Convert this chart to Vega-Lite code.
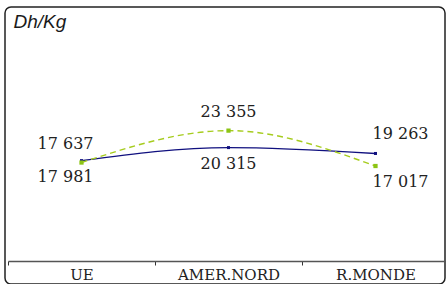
{
  "$schema": "https://vega.github.io/schema/vega-lite/v6.json",
  "width": 440,
  "height": 277,
  "autosize": "none",
  "padding": {"left": 5, "top": 7, "right": 1, "bottom": 0},
  "background": "white",
  "config": {
    "view": {"stroke": "#222222", "strokeWidth": 1.5, "cornerRadius": 6},
    "locale": {"number": {"decimal": ",", "thousands": " ", "grouping": [3], "currency": ["", ""]}}
  },
  "datasets": {
    "prices": [
      {"cat": "UE", "series": "navy", "v": 17981},
      {"cat": "AMER.NORD", "series": "navy", "v": 20315},
      {"cat": "R.MONDE", "series": "navy", "v": 19263},
      {"cat": "UE", "series": "green", "v": 17637},
      {"cat": "AMER.NORD", "series": "green", "v": 23355},
      {"cat": "R.MONDE", "series": "green", "v": 17017}
    ],
    "unit": [
      {"cat": "UE", "v": 45500, "label": "Dh/Kg"}
    ]
  },
  "data": {"name": "prices"},
  "encoding": {
    "x": {
      "field": "cat",
      "type": "nominal",
      "sort": ["UE", "AMER.NORD", "R.MONDE"],
      "scale": {"type": "band", "range": [3, 444], "paddingInner": 0, "paddingOuter": 0},
      "axis": {
        "title": null,
        "orient": "bottom",
        "offset": -23,
        "domainColor": "#555555",
        "domainWidth": 1.5,
        "tickBand": "extent",
        "tickColor": "#333333",
        "tickSize": 4,
        "tickWidth": 1,
        "labelAngle": 0,
        "labelFont": "DejaVu Serif",
        "labelFontSize": 15,
        "labelColor": "#222222",
        "labelPadding": 2,
        "grid": false
      }
    },
    "y": {
      "field": "v",
      "type": "quantitative",
      "scale": {"domain": [0, 45500], "range": [254, 0], "zero": true, "nice": false},
      "axis": null
    }
  },
  "layer": [
    {
      "transform": [{"filter": "datum.series == 'navy'"}],
      "mark": {"type": "line", "interpolate": "monotone", "color": "#10107f", "strokeWidth": 1.4}
    },
    {
      "transform": [{"filter": "datum.series == 'green'"}],
      "mark": {"type": "line", "interpolate": "monotone", "color": "#a6cc1e", "strokeWidth": 1.4, "strokeDash": [6, 4]}
    },
    {
      "transform": [{"filter": "datum.series == 'navy'"}],
      "mark": {"type": "point", "shape": "square", "filled": true, "size": 9, "color": "#10107f", "opacity": 1}
    },
    {
      "transform": [{"filter": "datum.series == 'green'"}],
      "mark": {"type": "point", "shape": "square", "filled": true, "size": 18, "color": "#8cc414", "opacity": 1}
    },
    {
      "mark": {
        "type": "text",
        "font": "DejaVu Serif",
        "fontSize": 16,
        "color": "#222222",
        "baseline": "middle",
        "align": "center",
        "dx": {"expr": "datum.cat == 'UE' ? -16 : (datum.cat == 'R.MONDE' ? 25 : 0)"},
        "dy": {"expr": "((datum.series == 'green') != (datum.cat == 'R.MONDE')) ? -19 : 16"}
      },
      "encoding": {"text": {"field": "v", "type": "quantitative", "format": ",d"}}
    },
    {
      "data": {"name": "unit"},
      "mark": {
        "type": "text",
        "font": "Liberation Sans",
        "fontSize": 19,
        "fontStyle": "italic",
        "color": "#1a1a1a",
        "align": "left",
        "baseline": "alphabetic",
        "dx": -68,
        "dy": 21
      },
      "encoding": {
        "text": {"field": "label", "type": "nominal"}
      }
    }
  ]
}
